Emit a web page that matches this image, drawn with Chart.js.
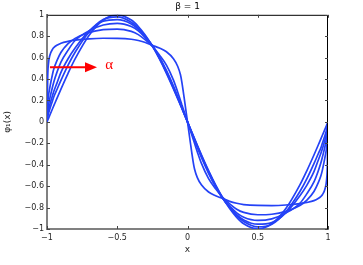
<!DOCTYPE html>
<html>
<head>
<meta charset="utf-8">
<script src="https://cdn.jsdelivr.net/npm/chart.js@4.4.1/dist/chart.umd.min.js"></script>
<style>
	html, body { margin: 0; padding: 0; background: #fff; }
	#wrap { width: 363px; height: 265px; }
</style>
</head>
<body>
<div id="wrap"><canvas id="chart" width="363" height="265"></canvas></div>
<script>
/* global Chart */
( function () {
	'use strict';

	// sample positions along x, shared by every curve
	const xs = [ -1, -0.995, -0.99, -0.98, -0.96, -0.95, -0.93, -0.9, -0.85, -0.8, -0.7, -0.6, -0.5, -0.4, -0.35, -0.3, -0.25, -0.2, -0.15, -0.1, -0.07, -0.05, -0.04, -0.02,
		0,
		0.02, 0.04, 0.05, 0.07, 0.1, 0.15, 0.2, 0.25, 0.3, 0.35, 0.4, 0.5, 0.6, 0.7, 0.8, 0.85, 0.9, 0.93, 0.95, 0.96, 0.98, 0.99, 0.995, 1 ];

	// phi_1(x), one curve per alpha (flattest first)
	const phiA1 = [ 0, 0.42, 0.54, 0.62, 0.68, 0.695, 0.715, 0.735, 0.752, 0.763, 0.776, 0.781, 0.78, 0.772, 0.76, 0.742, 0.715, 0.69, 0.655, 0.59, 0.52, 0.44, 0.37, 0.19,
		0,
		-0.19, -0.37, -0.44, -0.52, -0.59, -0.655, -0.69, -0.715, -0.742, -0.76, -0.772, -0.78, -0.781, -0.776, -0.763, -0.752, -0.735, -0.715, -0.695, -0.68, -0.62, -0.54, -0.42, 0 ];
	const phiA2 = [ 0, 0.17, 0.24, 0.32, 0.45, 0.5, 0.57, 0.65, 0.73, 0.78, 0.835, 0.862, 0.867, 0.845, 0.815, 0.765, 0.705, 0.625, 0.53, 0.39, 0.28, 0.2, 0.16, 0.08,
		0,
		-0.08, -0.16, -0.2, -0.28, -0.39, -0.53, -0.625, -0.705, -0.765, -0.815, -0.845, -0.867, -0.862, -0.835, -0.78, -0.73, -0.65, -0.57, -0.5, -0.45, -0.32, -0.24, -0.17, 0 ];
	const phiA3 = [ 0, 0.1, 0.15, 0.22, 0.33, 0.38, 0.46, 0.56, 0.67, 0.76, 0.85, 0.905, 0.92, 0.89, 0.85, 0.785, 0.714, 0.607, 0.48, 0.335, 0.236, 0.17, 0.137, 0.068,
		0,
		-0.068, -0.137, -0.17, -0.236, -0.335, -0.48, -0.607, -0.714, -0.785, -0.85, -0.89, -0.92, -0.905, -0.85, -0.76, -0.67, -0.56, -0.46, -0.38, -0.33, -0.22, -0.15, -0.1, 0 ];
	const phiA4 = [ 0, 0.07, 0.1, 0.16, 0.25, 0.29, 0.36, 0.465, 0.59, 0.69, 0.85, 0.94, 0.955, 0.915, 0.865, 0.795, 0.712, 0.6, 0.47, 0.325, 0.23, 0.165, 0.133, 0.066,
		0,
		-0.066, -0.133, -0.165, -0.23, -0.325, -0.47, -0.6, -0.712, -0.795, -0.865, -0.915, -0.955, -0.94, -0.85, -0.69, -0.59, -0.465, -0.36, -0.29, -0.25, -0.16, -0.1, -0.07, 0 ];
	const phiA5 = [ 0, 0.05, 0.075, 0.12, 0.2, 0.24, 0.3, 0.39, 0.53, 0.65, 0.84, 0.955, 0.98, 0.93, 0.875, 0.8, 0.71, 0.595, 0.462, 0.316, 0.223, 0.16, 0.128, 0.064,
		0,
		-0.064, -0.128, -0.16, -0.223, -0.316, -0.462, -0.595, -0.71, -0.8, -0.875, -0.93, -0.98, -0.955, -0.84, -0.65, -0.53, -0.39, -0.3, -0.24, -0.2, -0.12, -0.075, -0.05, 0 ];
	const phiA6 = [ 0, 0.016, 0.031, 0.063, 0.125, 0.156, 0.218, 0.309, 0.454, 0.588, 0.809, 0.951, 1, 0.951, 0.891, 0.809, 0.707, 0.588, 0.454, 0.309, 0.218, 0.156, 0.125, 0.063,
		0,
		-0.063, -0.125, -0.156, -0.218, -0.309, -0.454, -0.588, -0.707, -0.809, -0.891, -0.951, -1, -0.951, -0.809, -0.588, -0.454, -0.309, -0.218, -0.156, -0.125, -0.063, -0.031, -0.016, 0 ];

	const curves = [ phiA1, phiA2, phiA3, phiA4, phiA5, phiA6 ];

	const xTicks = [ -1, -0.5, 0, 0.5, 1 ];
	const yTicks = [ -1, -0.8, -0.6, -0.4, -0.2, 0, 0.2, 0.4, 0.6, 0.8, 1 ];

	const TITLE = 'β = 1';
	const X_LABEL = 'x';
	const Y_LABEL = 'φ₁(x)';
	const ARROW_LABEL = 'α';
	// arrow annotation, in data units
	const arrowFrom = { x: -0.979, y: 0.51 };
	const arrowTo = { x: -0.644, y: 0.51 };
	const arrowText = { x: -0.558, y: 0.535 };

	const LINE_BLUE = 'rgb(36, 66, 246)';
	const TICK_LEN = 3;

	Chart.defaults.font.family = '"DejaVu Sans", sans-serif';
	Chart.defaults.font.size = 8;
	Chart.defaults.color = '#262626';

	function fmt( v ) {
		const s = String( Math.round( v * 10 ) / 10 );
		return s.replace( '-', '\u2212' );
	}

	function fixTicks( list ) {
		return function ( scale ) {
			scale.ticks = list.map( function ( v ) {
				return { value: v };
			} );
		};
	}

	const matlabBox = {
		id: 'matlabBox',
		afterDraw: function ( chart ) {
			const ctx = chart.ctx;
			const a = chart.chartArea;
			const sx = chart.scales.x;
			const sy = chart.scales.y;

			ctx.save();
			ctx.lineWidth = 1;
			ctx.strokeStyle = '#000';
			ctx.beginPath();
			ctx.moveTo( a.left, a.top + 0.5 );
			ctx.lineTo( a.right - 0.5, a.top + 0.5 );
			ctx.lineTo( a.right - 0.5, a.bottom );
			ctx.stroke();

			ctx.strokeStyle = '#444';
			ctx.beginPath();
			xTicks.forEach( function ( v ) {
				const px = Math.round( sx.getPixelForValue( v ) ) + 0.5;
				ctx.moveTo( px, a.bottom );
				ctx.lineTo( px, a.bottom - TICK_LEN );
				ctx.moveTo( px, a.top );
				ctx.lineTo( px, a.top + TICK_LEN );
			} );
			yTicks.forEach( function ( v ) {
				const py = Math.round( sy.getPixelForValue( v ) ) + 0.5;
				ctx.moveTo( a.left, py );
				ctx.lineTo( a.left + TICK_LEN, py );
				ctx.moveTo( a.right, py );
				ctx.lineTo( a.right - TICK_LEN, py );
			} );
			ctx.stroke();

			// red arrow showing increasing alpha
			const x0 = sx.getPixelForValue( arrowFrom.x );
			const x1 = sx.getPixelForValue( arrowTo.x );
			const y0 = sy.getPixelForValue( arrowFrom.y );
			ctx.strokeStyle = '#ff0000';
			ctx.fillStyle = '#ff0000';
			ctx.lineWidth = 2;
			ctx.beginPath();
			ctx.moveTo( x0, y0 );
			ctx.lineTo( x1 - 9, y0 );
			ctx.stroke();
			ctx.beginPath();
			ctx.moveTo( x1, y0 );
			ctx.lineTo( x1 - 12, y0 - 5 );
			ctx.lineTo( x1 - 12, y0 + 5 );
			ctx.closePath();
			ctx.fill();

			ctx.font = '15px "Liberation Serif", serif';
			ctx.textAlign = 'center';
			ctx.textBaseline = 'middle';
			ctx.fillText( ARROW_LABEL, sx.getPixelForValue( arrowText.x ), sy.getPixelForValue( arrowText.y ) );
			ctx.restore();
		},
	};

	const datasets = curves.map( function ( ys, i ) {
		return {
			label: 'alpha ' + ( i + 1 ),
			data: xs.map( function ( x, k ) {
				return { x: x, y: ys[ k ] };
			} ),
			borderColor: LINE_BLUE,
			backgroundColor: LINE_BLUE,
			borderWidth: 1.7,
			pointRadius: 0,
			cubicInterpolationMode: 'monotone',
			fill: false,
		};
	} );

	new Chart( document.getElementById( 'chart' ).getContext( '2d' ), {
		type: 'line',
		data: { datasets: datasets },
		plugins: [ matlabBox ],
		options: {
			responsive: false,
			devicePixelRatio: 1,
			animation: false,
			layout: { padding: { top: 0, right: 35, bottom: 0, left: 0 } },
			plugins: {
				legend: { display: false },
				tooltip: { enabled: false },
				title: {
					display: true,
					text: TITLE,
					fullSize: false,
					color: '#000',
					font: { size: 9, weight: 'normal' },
					padding: { top: 1, bottom: 3 },
				},
			},
			scales: {
				x: {
					type: 'linear',
					min: -1,
					max: 1,
					afterBuildTicks: fixTicks( xTicks ),
					afterFit: function ( s ) {
						s.height = 36;
					},
					grid: { display: false, drawTicks: false },
					border: { display: true, color: '#808080', width: 2 },
					ticks: {
						padding: 4,
						maxRotation: 0,
						autoSkip: false,
						callback: fmt,
					},
					title: {
						display: true,
						text: X_LABEL,
						color: '#262626',
						font: { size: 9 },
						padding: { top: 0, bottom: 10 },
					},
				},
				y: {
					type: 'linear',
					min: -1,
					max: 1,
					afterBuildTicks: fixTicks( yTicks ),
					afterFit: function ( s ) {
						s.width = 47;
					},
					grid: { display: false, drawTicks: false },
					border: { display: true, color: '#808080', width: 2 },
					ticks: {
						padding: 3,
						autoSkip: false,
						callback: fmt,
					},
					title: {
						display: true,
						text: Y_LABEL,
						color: '#262626',
						font: { size: 9 },
						padding: { top: 2, bottom: 0 },
					},
				},
			},
		},
	} );
}() );
</script>
</body>
</html>
